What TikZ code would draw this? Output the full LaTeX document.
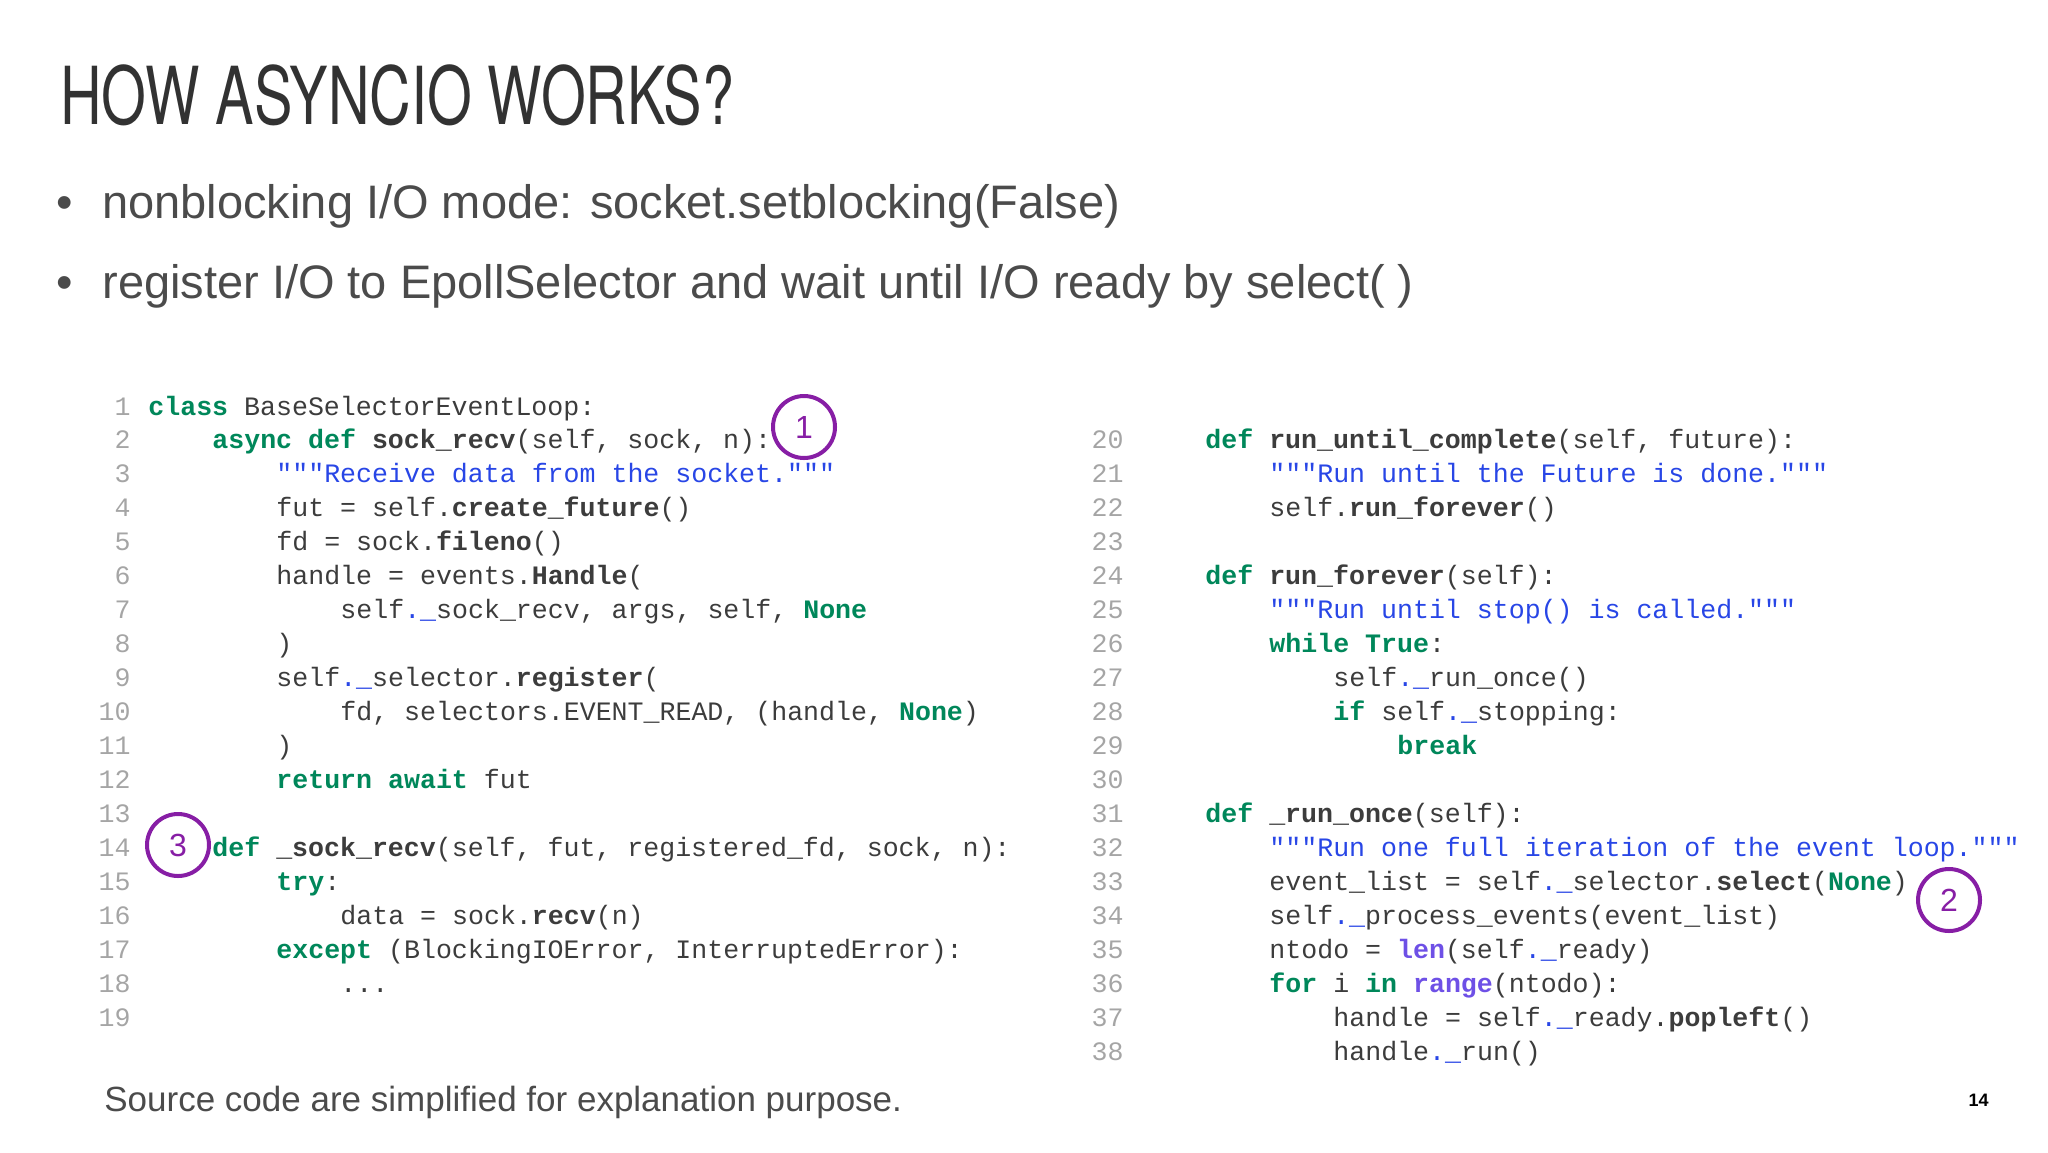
\documentclass[tikz,border=0pt]{standalone}
\usepackage{fontspec}
\setmainfont{Liberation Sans}
\setmonofont{Liberation Mono}
\newfontfamily\titlefont[FakeStretch=0.72]{TeX Gyre Heros}
\definecolor{kwc}{RGB}{0,135,90}
\definecolor{docc}{RGB}{40,70,230}
\definecolor{bic}{RGB}{110,80,230}
\definecolor{codec}{RGB}{60,60,60}
\definecolor{numc}{RGB}{165,165,165}
\definecolor{circc}{RGB}{135,30,165}
\definecolor{textc}{RGB}{75,75,75}
\newcommand\K[1]{\textcolor{kwc}{\bfseries #1}}
\newcommand\D[1]{\textcolor{docc}{#1}}
\newcommand\B[1]{{\bfseries #1}}
\newcommand\PB[1]{\textcolor{bic}{\bfseries #1}}
\newcommand\U{\textcolor{docc}{.\_}}
\tikzset{
  code/.style={anchor=base west,inner sep=0pt,text=codec,font=\ttfamily\fontsize{13.3}{14}\selectfont},
  lnum/.style={anchor=base east,inner sep=0pt,text=numc,font=\ttfamily\fontsize{13.3}{14}\selectfont},
  mark circ/.style={circle,draw=circc,line width=2pt,minimum size=31pt,inner sep=0pt,text=circc,font=\fontsize{16}{16}\selectfont},
  bullet/.style={anchor=base west,inner sep=0pt,text=textc,font=\fontsize{23.5}{24}\selectfont}
}
\begin{document}
\begin{tikzpicture}[x=0.5pt,y=-0.5pt]
\useasboundingbox (0,0) rectangle (2048,1152);
\node[anchor=base west,inner sep=0pt,text={rgb,255:red,50;green,50;blue,50},font=\titlefont\fontsize{40}{40}\selectfont] (title) at (60,124) {HOW ASYNCIO WORKS?};
\node[bullet] (b1dot) at (56,218) {•};
\node[bullet] (b1) at (102,218) {nonblocking I/O mode: socket.setblocking(False)};
\node[bullet] (b2dot) at (56,298) {•};
\node[bullet] (b2) at (102,298) {register I/O to EpollSelector and wait until I/O ready by select( )};
% left code
\foreach \i/\ind/\txt in {
 1/0/{\K{class} BaseSelectorEventLoop:},
 2/4/{\K{async def} \B{sock\_recv}(self, sock, n):},
 3/8/{\D{"""Receive data from the socket."""}},
 4/8/{fut = self.\B{create\_future}()},
 5/8/{fd = sock.\B{fileno}()},
 6/8/{handle = events.\B{Handle}(},
 7/12/{self\U sock\_recv, args, self, \K{None}},
 8/8/{)},
 9/8/{self\U selector.\B{register}(},
 10/12/{fd, selectors.EVENT\_READ, (handle, \K{None})},
 11/8/{)},
 12/8/{\K{return await} fut},
 13/0/{},
 14/4/{\K{def} \B{\_sock\_recv}(self, fut, registered\_fd, sock, n):},
 15/8/{\K{try}:},
 16/12/{data = sock.\B{recv}(n)},
 17/8/{\K{except} (BlockingIOError, InterruptedError):},
 18/12/{...},
 19/0/{}}
{
 \node[lnum] (ln\i) at (131,{415+(\i-1)*33.96}) {\i};
 \node[code] (lc\i) at ({148+\ind*16},{415+(\i-1)*33.96}) {\txt};
}
% right code
\foreach \i/\ind/\txt in {
 20/0/{\K{def} \B{run\_until\_complete}(self, future):},
 21/4/{\D{"""Run until the Future is done."""}},
 22/4/{self.\B{run\_forever}()},
 23/0/{},
 24/0/{\K{def} \B{run\_forever}(self):},
 25/4/{\D{"""Run until stop() is called."""}},
 26/4/{\K{while True}:},
 27/8/{self\U run\_once()},
 28/8/{\K{if} self\U stopping:},
 29/12/{\K{break}},
 30/0/{},
 31/0/{\K{def} \B{\_run\_once}(self):},
 32/4/{\D{"""Run one full iteration of the event loop."""}},
 33/4/{event\_list = self\U selector.\B{select}(\K{None})},
 34/4/{self\U process\_events(event\_list)},
 35/4/{ntodo = \PB{len}(self\U ready)},
 36/4/{\K{for} i \K{in} \PB{range}(ntodo):},
 37/8/{handle = self\U ready.\B{popleft}()},
 38/8/{handle\U run()}}
{
 \node[lnum] (rn\i) at (1124,{415+(\i-19)*33.96}) {\i};
 \node[code] (rc\i) at ({1205+\ind*16},{415+(\i-19)*33.96}) {\txt};
}
\node[mark circ] (c1) at (804,427) {1};
\node[mark circ] (c2) at (1949,900) {2};
\node[mark circ] (c3) at (178,845) {3};
\node[anchor=base west,inner sep=0pt,text=textc,font=\fontsize{17.5}{18}\selectfont] (foot) at (104,1111) {Source code are simplified for explanation purpose.};
\node[anchor=base east,inner sep=0pt,text=black,font=\bfseries\fontsize{9}{9}\selectfont] (page) at (1989,1106) {14};
\end{tikzpicture}
\end{document}
